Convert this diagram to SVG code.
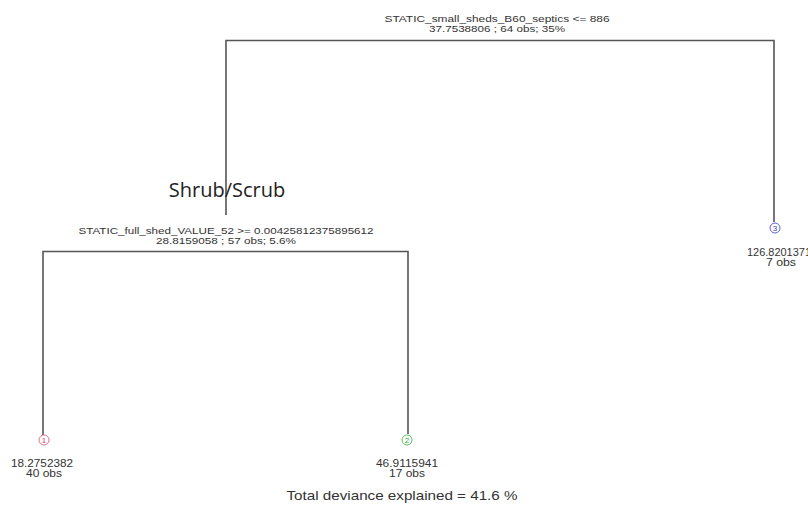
<svg xmlns="http://www.w3.org/2000/svg" width="808" height="508" viewBox="0 0 808 508">
<style>
.t{font-family:"Liberation Sans",Arial,sans-serif;font-size:9.5px;fill:#333;text-anchor:middle}
.l{font-family:"Liberation Sans",Arial,sans-serif;font-size:10px;fill:#333;text-anchor:middle}
.e{stroke:#555;stroke-width:1.6;fill:none}
.c{fill:none;stroke-width:1}
.n{font-family:"Liberation Sans",Arial,sans-serif;font-size:8px;text-anchor:middle}
</style>
<rect width="808" height="508" fill="#fff"/>
<g id="connectors">
<path class="e" d="M226,215 V40.5 H774 V222"/>
<path class="e" d="M43,435 V251.5 H408 V434"/>
</g>
<g id="split-root">
<text class="t" x="497" y="22" textLength="225" lengthAdjust="spacingAndGlyphs">STATIC_small_sheds_B60_septics &lt;= 886</text>
<text class="t" x="497" y="32" textLength="136" lengthAdjust="spacingAndGlyphs">37.7538806 ; 64 obs; 35%</text>
</g>
<g id="split-left">
<text class="t" x="226" y="234" textLength="295" lengthAdjust="spacingAndGlyphs">STATIC_full_shed_VALUE_52 &gt;= 0.00425812375895612</text>
<text class="t" x="226" y="244" textLength="140" lengthAdjust="spacingAndGlyphs">28.8159058 ; 57 obs; 5.6%</text>
</g>
<g id="label-shrub">
<text x="227" y="197" style="font-family:'Open Sans',sans-serif;font-size:20px;fill:#222;text-anchor:middle">Shrub/Scrub</text>
</g>
<g id="leaf1">
<circle class="c" cx="44" cy="440" r="5" stroke="#e07090"/>
<text class="n" x="44" y="443" fill="#d04060">1</text>
<text class="l" x="42" y="467" textLength="62" lengthAdjust="spacingAndGlyphs">18.2752382</text>
<text class="l" x="44" y="477" textLength="36" lengthAdjust="spacingAndGlyphs">40 obs</text>
</g>
<g id="leaf2">
<circle class="c" cx="407" cy="440" r="5" stroke="#60c060"/>
<text class="n" x="407" y="443" fill="#30a030">2</text>
<text class="l" x="407" y="467" textLength="62" lengthAdjust="spacingAndGlyphs">46.9115941</text>
<text class="l" x="407" y="477" textLength="36" lengthAdjust="spacingAndGlyphs">17 obs</text>
</g>
<g id="leaf3">
<circle class="c" cx="775" cy="228" r="5" stroke="#6060d0"/>
<text class="n" x="775" y="231" fill="#4040c0">3</text>
<text class="l" x="779" y="256" textLength="64" lengthAdjust="spacingAndGlyphs">126.8201371</text>
<text class="l" x="781" y="266" textLength="30" lengthAdjust="spacingAndGlyphs">7 obs</text>
</g>
<g id="footer">
<text x="402" y="500" textLength="231" lengthAdjust="spacingAndGlyphs" style="font-family:'Liberation Sans',Arial,sans-serif;font-size:13px;fill:#333;text-anchor:middle">Total deviance explained = 41.6 %</text>
</g>
</svg>
